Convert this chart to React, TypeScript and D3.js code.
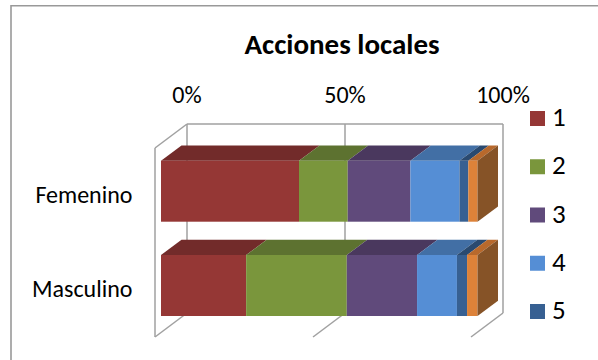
import React from "react";
import * as d3 from "d3";

const title = "Acciones locales";
const categories = ["Femenino", "Masculino"];
const seriesNames = ["1", "2", "3", "4", "5", "6"];
const femenino = [43.6, 15.4, 19.8, 15.5, 2.8, 2.9];
const masculino = [26.9, 31.8, 22.2, 12.6, 3.2, 3.3];
const axisTicks = [0, 50, 100];
const legendNames = ["1", "2", "3", "4", "5"];
const front = ["#953735", "#7a963c", "#604a7b", "#558ed5", "#376092", "#dd8239"];
const topFace = ["#722b2a", "#5d7230", "#4a385e", "#426fa5", "#2a4a70", "#b8692c"];
const sideColor = "#865327";
const font = "Carlito, 'Liberation Sans', 'Open Sans', sans-serif";

export default function App() {
  const x = d3.scaleLinear().domain([0, 100]).range([161, 477.5]);
  const bw = 61;
  const yPos: Record<string, number> = { Femenino: 160.7, Masculino: 255 };
  const dx = 20.5, dy = 15.3;
  const wx = d3.scaleLinear().domain([0, 100]).range([155, 471]);
  const wdx = 32, wdy = 24;
  const wt = 148, wb = 337;
  const rows = [femenino, masculino];
  const legendY = d3.scalePoint<string>().domain(legendNames).range([118.5, 311.5]);
  const grid = "#a0a0a0";
  return (
    <svg width={598} height={360} style={{ position: "absolute", left: 0, top: 0 }} fontFamily={font}>
      <rect x={0} y={0} width={598} height={360} fill="#fff" />
      <line x1={11} x2={598} y1={5.8} y2={5.8} stroke="#999" strokeWidth={1.6} />
      <line x1={11} x2={11} y1={5} y2={360} stroke="#999" strokeWidth={1.6} />
      <text x={342} y={54} textAnchor="middle" fontSize={29} fontWeight={700} fill="#000">{title}</text>
      {axisTicks.map((t) => (
        <g key={t}>
          <text x={wx(t) + wdx} y={102.5} textAnchor="middle" fontSize={24} fill="#000" dx={t === 100 ? 0 : 0}>{t}%</text>
          <line x1={wx(t) + wdx} x2={wx(t) + wdx} y1={wt - wdy} y2={wb - wdy} stroke={grid} strokeWidth={1.5} />
          <line x1={wx(t)} x2={wx(t) + wdx} y1={wb} y2={wb - wdy} stroke={grid} strokeWidth={1.5} />
        </g>
      ))}
      <line x1={wx(0) + wdx} x2={wx(100) + wdx} y1={wt - wdy} y2={wt - wdy} stroke={grid} strokeWidth={1.5} />
      <line x1={wx(0)} x2={wx(0) + wdx} y1={wt} y2={wt - wdy} stroke={grid} strokeWidth={1.5} />
      <line x1={wx(0)} x2={wx(0)} y1={wt} y2={wb} stroke={grid} strokeWidth={1.5} />
      {categories.map((c, i) => {
        const stack = d3.cumsum(rows[i]);
        const top = yPos[c];
        const bot = top + bw;
        const end = x(stack[stack.length - 1]);
        return (
          <g key={c}>
            <text x={132.5} y={top + 42.4} textAnchor="end" fontSize={24} fill="#000">{c}</text>
            {rows[i].map((v, j) => {
              const x0 = x(stack[j] - v);
              const x1 = x(stack[j]);
              return (
                <g key={j}>
                  <path d={`M${x0},${top}L${x0 + dx},${top - dy}L${x1 + dx},${top - dy}L${x1},${top}Z`} fill={topFace[j]} />
                  <rect x={x0} y={top} width={x1 - x0} height={bw} fill={front[j]} />
                </g>
              );
            })}
            <path d={`M${end},${top}L${end + dx},${top - dy}L${end + dx},${bot - dy}L${end},${bot}Z`} fill={sideColor} />
          </g>
        );
      })}
      {legendNames.map((n, i) => (
        <g key={n}>
          <rect x={530} y={legendY(n)! - 7.5} width={15} height={15} fill={front[i]} />
          <text x={552} y={legendY(n)! + 7.5} fontSize={27} fill="#000">{seriesNames[i]}</text>
        </g>
      ))}
    </svg>
  );
}
